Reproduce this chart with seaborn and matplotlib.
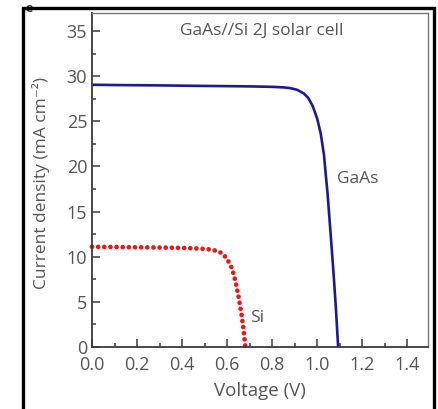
import matplotlib
matplotlib.use("Agg")
import matplotlib.pyplot as plt
import seaborn as sns
import pandas as pd
from matplotlib.patches import Rectangle
from matplotlib.ticker import MultipleLocator

# ---- data ----
gaas_v = [0.0, 0.1, 0.2, 0.3, 0.4, 0.5, 0.6, 0.7, 0.8, 0.85, 0.88, 0.91, 0.94,
          0.96, 0.98, 1.0, 1.016, 1.03, 1.038, 1.046, 1.053, 1.063, 1.073, 1.083, 1.093]
gaas_j = [29.05, 29.02, 29.0, 28.98, 28.95, 28.92, 28.9, 28.87, 28.82, 28.76, 28.68,
          28.5, 28.1, 27.6, 26.7, 25.3, 23.6, 21.3, 19.1, 17.0, 14.7, 11.4, 8.0, 4.3, 0.0]

si_v = [0.0, 0.1, 0.2, 0.3, 0.4, 0.48, 0.53, 0.56, 0.58, 0.6, 0.622, 0.637, 0.652,
        0.664, 0.674, 0.681]
si_j = [11.1, 11.08, 11.05, 11.02, 10.98, 10.9, 10.8, 10.6, 10.35, 9.75, 8.7, 7.3,
        5.4, 3.6, 1.7, 0.0]

x_ticks = [0.0, 0.2, 0.4, 0.6, 0.8, 1.0, 1.2, 1.4]
y_ticks = [0, 5, 10, 15, 20, 25, 30, 35]

title = "GaAs//Si 2J solar cell"
xlabel = "Voltage (V)"
ylabel = "Current density (mA cm\u207b\u00b2)"

# ---- style ----
sns.set_style("ticks")
plt.rcParams["font.family"] = ["Open Sans", "DejaVu Sans"]

text_col = "#555555"
spine_col = "#3a3a3a"

W, H = 438, 409
fig = plt.figure(figsize=(W / 100, H / 100), dpi=100)
ax = fig.add_axes([92 / W, 1 - 347 / H, (428 - 92) / W, (347 - 13) / H])

df_g = pd.DataFrame({"V": gaas_v, "J": gaas_j})
df_s = pd.DataFrame({"V": si_v, "J": si_j})

sns.lineplot(data=df_g, x="V", y="J", ax=ax, color="#1b1b8f", linewidth=1.9,
             sort=False, estimator=None)
sns.lineplot(data=df_s, x="V", y="J", ax=ax, color="#f01414", linewidth=3.4,
             sort=False, estimator=None)
si_line = ax.lines[-1]
si_line.set_linestyle((0, (0.001, 1.3)))
si_line.set_dash_capstyle("round")
si_line.set_clip_on(False)

ax.set_xlim(0, 1.492)
ax.set_ylim(0, 37.0)
ax.set_xticks(x_ticks)
ax.set_xticklabels([f"{t:.1f}" for t in x_ticks])
ax.set_yticks(y_ticks)
ax.set_yticklabels([str(t) for t in y_ticks])
ax.xaxis.set_minor_locator(MultipleLocator(0.1))
ax.yaxis.set_minor_locator(MultipleLocator(2.5))

ax.tick_params(axis="both", which="major", direction="in", length=5.5, width=1.1,
               color=spine_col, labelsize=13, labelcolor=text_col)
ax.tick_params(axis="both", which="minor", direction="in", length=3.2, width=1.1,
               color=spine_col)
ax.tick_params(axis="x", which="major", pad=6.5)
ax.tick_params(axis="y", which="major", pad=3.5)
ax.tick_params(top=False, right=False, which="both")

for s in ["left", "bottom"]:
    ax.spines[s].set_color(spine_col)
    ax.spines[s].set_linewidth(1.3)
for s in ["top", "right"]:
    ax.spines[s].set_color("#777777")
    ax.spines[s].set_linewidth(1.0)

ax.set_xlabel(xlabel, fontsize=13.5, color=text_col)
ax.set_ylabel(ylabel, fontsize=12.5, color=text_col)
ax.xaxis.set_label_coords(0.5, -0.105)
ax.yaxis.set_label_coords(-0.125, 0.49)

ax.text(0.755, 35.0, title, ha="center", va="center", fontsize=12.5, color=text_col)
ax.text(1.09, 18.6, "GaAs", ha="left", va="center", fontsize=12.5, color=text_col)
ax.text(0.70, 3.2, "Si", ha="left", va="center", fontsize=12.5, color=text_col)

# panel letter (mostly hidden behind frame) and outer frame
fig.text(29 / W, 1 - 9 / H, "e", fontsize=9, fontweight="bold", color="#333333",
         ha="center", va="center")
frame = Rectangle((22.5 / W, -0.05), (433.5 - 22.5) / W, 1.05 - 8 / H,
                  transform=fig.transFigure, fill=False, edgecolor="black",
                  linewidth=2.4, zorder=10)
fig.add_artist(frame)

fig.savefig("out.png", dpi=100)
